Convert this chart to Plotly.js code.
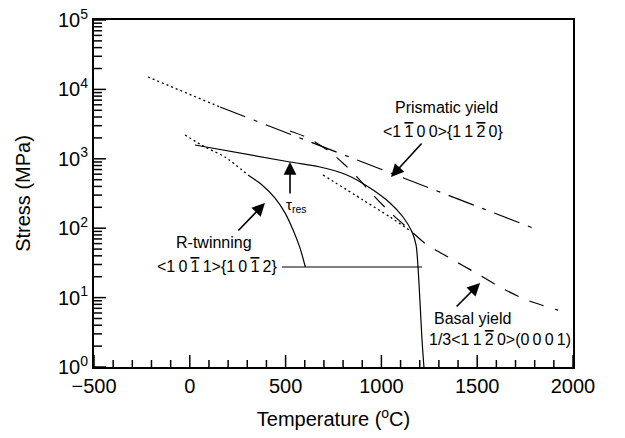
<!DOCTYPE html>
<html>
<head>
<meta charset="utf-8">
<script src="https://cdn.plot.ly/plotly-3.0.1.min.js"></script>
<style>html,body{margin:0;padding:0;background:#fff;}</style>
</head>
<body>
<div id="chart" style="width:625px;height:438px;"></div>
<script>
// Prismatic yield: dotted extrapolation, then dash-dot
const prismDotT = [-218, 158];
const prismDotS = [15100, 5570];
const prismT = [158, 1802];
const prismS = [5570, 98];

// Basal yield (dashed)
const basalT = [523, 617, 732, 810, 878, 961, 1055, 1149, 1233, 1358, 1494, 1629, 1760, 1922];
const basalS = [2518, 1995, 1253, 815, 528, 291, 160, 94, 59, 37, 22.6, 13.7, 9.2, 6.6];

// Dotted segment toward basal convergence
const dot2T = [695, 904, 1045, 1160];
const dot2S = [585, 255, 145, 88];

// tau_res (solid)
const tauT = [27, 523, 680, 820, 941, 1045, 1113, 1160, 1181, 1191, 1201, 1212, 1222];
const tauS = [1580, 900, 762, 585, 379, 231, 145, 88, 57, 27.6, 9.2, 2.45, 1.0];

// R-twinning: dotted extrapolation then solid, then horizontal plateau
const twinDotT = [-25, 79, 184, 304];
const twinDotS = [2200, 1480, 1060, 585];
const twinT = [304, 377, 445, 497, 539, 575, 603];
const twinS = [585, 419, 272, 166, 94, 52, 27.6];
const plateauT = [481, 1212];
const plateauS = [27.6, 27.6];

// Axis ticks
const xTickVals = [-500, 0, 500, 1000, 1500, 2000];
const xTickText = ['\u2212500', '0', '500', '1000', '1500', '2000'];
const xMinorVals = [-400, -300, -200, -100, 100, 200, 300, 400, 600, 700, 800, 900,
                    1100, 1200, 1300, 1400, 1600, 1700, 1800, 1900];
const yTickVals = [1, 10, 100, 1000, 10000, 100000];
const yTickText = ['10<sup>0</sup>', '10<sup>1</sup>', '10<sup>2</sup>', '10<sup>3</sup>', '10<sup>4</sup>', '10<sup>5</sup>'];
const yMinorVals = [2, 3, 4, 5, 6, 7, 8, 9,
                    20, 30, 40, 50, 60, 70, 80, 90,
                    200, 300, 400, 500, 600, 700, 800, 900,
                    2000, 3000, 4000, 5000, 6000, 7000, 8000, 9000,
                    20000, 30000, 40000, 50000, 60000, 70000, 80000, 90000];

const FONT = 'Liberation Sans, Arial, Helvetica, sans-serif';
const lw = 1.2;

function tr(x, y, dash, w, shape) {
  return {x: x, y: y, mode: 'lines', type: 'scatter',
          line: {color: '#000', width: w || lw, dash: dash, shape: shape || 'linear', smoothing: 0.8},
          showlegend: false};
}

const data = [
  tr(prismDotT, prismDotS, '2px,3px', 1.3),
  tr(prismT, prismS, '27px,9px,4px,9px'),
  tr(basalT, basalS, '15px,12px', lw, 'spline'),
  tr(dot2T, dot2S, '2px,3px', 1.3, 'spline'),
  tr(tauT, tauS, 'solid', lw, 'spline'),
  tr(twinDotT, twinDotS, '2px,3px', 1.3, 'spline'),
  tr(twinT, twinS, 'solid', lw, 'spline'),
  tr(plateauT, plateauS, 'solid')
];

// Tick marks as shapes: position on the data axis, length as a fraction of the plot area
const PLOT_W = 625 - 94 - 52;
const PLOT_H = 438 - 20 - 71;
function xTick(v, len) {
  return {type: 'line', xref: 'x', yref: 'paper',
          x0: v, x1: v, y0: 0, y1: len / PLOT_H, layer: 'above', line: {color: '#000', width: 1.5}};
}
function yTick(v, len) {
  return {type: 'line', xref: 'paper', yref: 'y',
          x0: 0, x1: len / PLOT_W, y0: v, y1: v, layer: 'above', line: {color: '#000', width: 1.5}};
}
const shapes = []
  .concat(xTickVals.map(function (v) { return xTick(v, 12); }))
  .concat(xMinorVals.map(function (v) { return xTick(v, 7); }))
  .concat(yTickVals.map(function (v) { return yTick(v, 12); }))
  .concat(yMinorVals.map(function (v) { return yTick(v, 8); }));

const ts = '\u2009';
function ob(d) { return '<span style="text-decoration:overline">' + d + '</span>'; }

function txt(x, y, text, xanchor, size) {
  return {x: x, y: y, xref: 'x', yref: 'y', text: text, showarrow: false,
          xanchor: xanchor || 'center', yanchor: 'middle',
          font: {family: FONT, size: size || 16, color: '#000'}};
}
function arr(x, y, ax, ay) {
  return {x: x, y: y, xref: 'x', yref: 'y', text: '', showarrow: true,
          arrowhead: 2, arrowsize: 1.6, arrowwidth: 1.6, arrowcolor: '#000',
          ax: ax, ay: ay, standoff: 0, startstandoff: 0};
}

const annotations = [
  txt(1342, 3.746, 'Prismatic yield'),
  txt(1322, 3.40, '&lt;1' + ts + ob('1') + ts + '0' + ts + '0&gt;{1' + ts + '1' + ts + ob('2') + ts + '0}'),
  txt(126, 1.787, 'R-twinning'),
  txt(142, 1.455, '&lt;1' + ts + '0' + ts + ob('1') + ts + '1&gt;{1' + ts + '0' + ts + ob('1') + ts + '2}'),
  txt(1264, 0.692, 'Basal yield', 'left'),
  txt(1238, 0.403, '1/3&lt;1' + ts + '1' + ts + ob('2') + ts + '0&gt;(0' + ts + '0' + ts + '0' + ts + '1)', 'left'),
  txt(559, 2.32, '\u03c4<sub>res</sub>', 'center', 15),
  arr(523, 2.954, 0, 33),
  arr(392, 2.363, -28, 29),
  arr(1050, 2.738, 32, -35),
  arr(1515, 1.210, -25, 25)
];

const layout = {
  width: 625, height: 438,
  margin: {l: 94, r: 52, t: 20, b: 71, pad: 0},
  showlegend: false,
  xaxis: {range: [-500, 2000], tickmode: 'array', tickvals: xTickVals, ticktext: xTickText,
          ticks: '', showline: true, linewidth: 2, linecolor: '#000', mirror: true,
          showgrid: false, zeroline: false, tickfont: {family: FONT, size: 20, color: '#000'},
          title: {text: 'Temperature (<sup>o</sup>C)', font: {family: FONT, size: 20, color: '#000'}, standoff: 16}},
  yaxis: {type: 'log', range: [0, 5], tickmode: 'array', tickvals: yTickVals, ticktext: yTickText,
          ticks: '', showline: true, linewidth: 2, linecolor: '#000', mirror: true,
          showgrid: false, zeroline: false, tickfont: {family: FONT, size: 20, color: '#000'},
          title: {text: 'Stress (MPa)', font: {family: FONT, size: 20, color: '#000'}, standoff: 22}},
  shapes: shapes,
  annotations: annotations
};

Plotly.newPlot('chart', data, layout, {staticPlot: true});
</script>
</body>
</html>
